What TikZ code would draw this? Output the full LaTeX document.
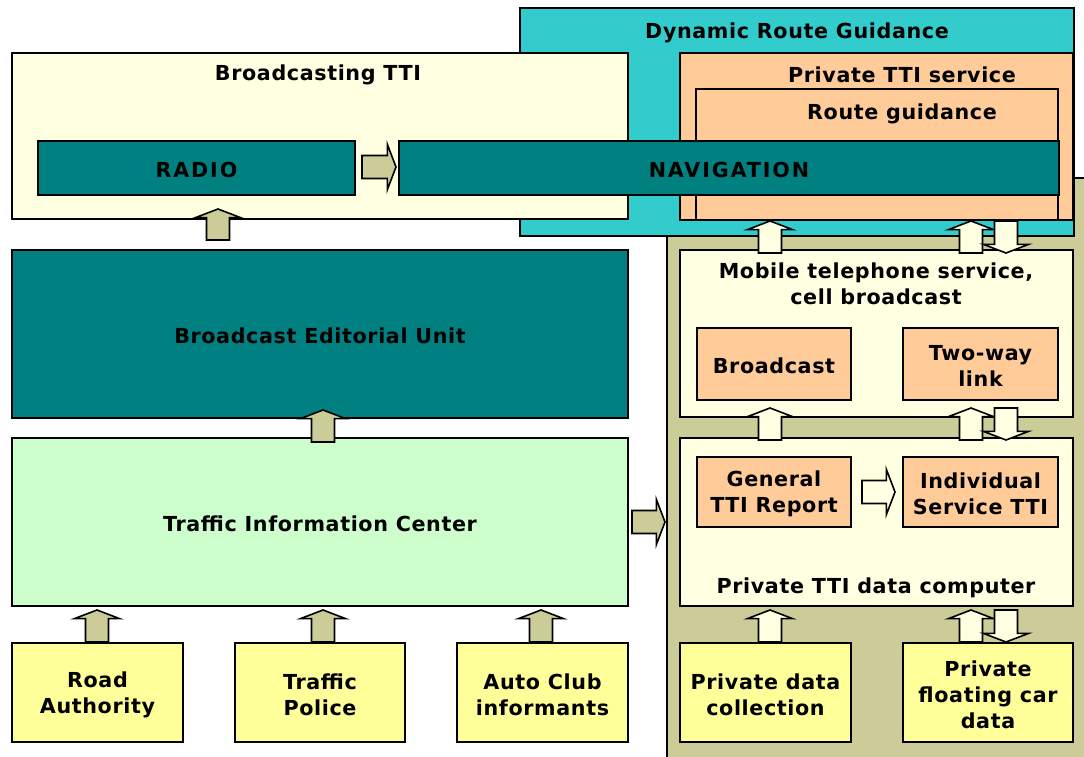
\documentclass[tikz,border=0pt]{standalone}
\usepackage{fontspec}
\setmainfont{DejaVu Sans}[LetterSpace=3]
\newfontfamily\capsp{DejaVu Sans}[LetterSpace=9]
\usetikzlibrary{calc}
\definecolor{khaki}{HTML}{CCCC99}
\definecolor{teal}{HTML}{008080}
\definecolor{cyanbox}{HTML}{33CCCC}
\definecolor{peach}{HTML}{FFCC99}
\definecolor{ltyellow}{HTML}{FFFFE1}
\definecolor{ltgreen}{HTML}{CCFFCC}
\definecolor{yellowbox}{HTML}{FFFF99}
\newcommand\fs{\fontsize{15.5}{19.5}\selectfont\bfseries}
\tikzset{
  box/.style={draw=black, line width=1.1pt, inner sep=0pt, outer sep=0pt},
  lbl/.style={inner sep=0pt, font=\fs, align=center, text=black, yshift=-1.5pt},
  barK/.style={fill=khaki, draw=black, line width=1.2pt, line join=miter},
  barW/.style={fill=ltyellow, draw=black, line width=1.2pt, line join=miter},
}
\newcommand\bx[7]{\node[box,#6,minimum width={(#4-#2)*0.75pt},minimum height={(#5-#3)*0.75pt}] (#1) at ({(#2+#4)/2},{(#3+#5)/2}) {};
  \node[lbl] (#1t) at (#1.center) {#7};}
\newcommand\barrow[3]{%
  \coordinate (hb) at ($(#3)!6.5pt!(#2)$);
  \draw[#1] ($(#2)!8.6pt!-90:(#3)$) -- ($(hb)!8.6pt!-90:(#3)$) -- ($(hb)!17pt!-90:(#3)$) -- (#3) -- ($(hb)!17pt!90:(#3)$) -- ($(hb)!8.6pt!90:(#3)$) -- ($(#2)!8.6pt!90:(#3)$) -- cycle;}
\begin{document}
\begin{tikzpicture}[x=0.75pt,y=-0.75pt]
\path[use as bounding box] (0,0) rectangle (1084,756);
\clip (0,0) rectangle (1084,756);
\fill[white] (0,0) rectangle (1084,756);
% right background panel
\bx{privbg}{667}{178}{1095}{770}{fill=khaki}{}
% dynamic route guidance
\bx{drg}{520}{8}{1074}{236}{fill=cyanbox}{}
\node[lbl] (drgt) at (797,31) {Dynamic Route Guidance};
% broadcasting TTI
\bx{btti}{12}{53}{628}{219}{fill=ltyellow}{}
\node[lbl] (bttit) at (318,73) {Broadcasting TTI};
% private TTI service
\bx{ptti}{680}{53}{1073}{220}{fill=peach}{}
\node[lbl] (pttit) at (902,73) {Private TTI service};
\bx{rg}{696}{89}{1058}{220}{fill=peach}{}
\node[lbl] (rgt) at (902,112) {Route guidance};
% radio / navigation
\bx{radio}{38}{141}{355}{195}{fill=teal}{\capsp RADIO}
\bx{nav}{399}{141}{1059}{195}{fill=teal}{\capsp NAVIGATION}
% left column
\bx{beu}{12}{250}{628}{418}{fill=teal}{Broadcast Editorial Unit}
\bx{tic}{12}{438}{628}{606}{fill=ltgreen}{Traffic Information Center}
\bx{road}{12}{643}{183}{742}{fill=yellowbox}{Road\\Authority}
\bx{police}{235}{643}{405}{742}{fill=yellowbox}{Traffic\\Police}
\bx{auto}{457}{643}{628}{742}{fill=yellowbox}{Auto Club\\informants}
% right column
\bx{mob}{680}{250}{1073}{417}{fill=ltyellow}{}
\node[lbl] (mobt) at (876,282) {Mobile telephone service,\\cell broadcast};
\bx{bcast}{697}{328}{851}{400}{fill=peach}{Broadcast}
\bx{twoway}{903}{328}{1058}{400}{fill=peach}{Two-way\\link}
\bx{comp}{680}{438}{1073}{606}{fill=ltyellow}{}
\node[lbl] (compt) at (876,586) {Private TTI data computer};
\bx{gen}{697}{457}{851}{527}{fill=peach}{General\\TTI Report}
\bx{indiv}{903}{457}{1058}{527}{fill=peach}{Individual\\Service TTI}
\bx{pdc}{680}{643}{851}{742}{fill=yellowbox}{Private data\\collection}
\bx{pfcd}{903}{643}{1073}{742}{fill=yellowbox}{Private\\floating car\\data}
% arrow end points
\coordinate (r1s) at (362,167); \coordinate (r1e) at (396,167);
\coordinate (u1s) at (218,240); \coordinate (u1e) at (218,209);
\coordinate (u2s) at (323,442); \coordinate (u2e) at (323,410);
\coordinate (r2s) at (632,522); \coordinate (r2e) at (665,522);
\coordinate (u3s) at (97,642);  \coordinate (u3e) at (97,610);
\coordinate (u4s) at (323,642); \coordinate (u4e) at (323,610);
\coordinate (u5s) at (541,642); \coordinate (u5e) at (541,610);
\coordinate (w1s) at (770,253); \coordinate (w1e) at (770,221);
\coordinate (w2s) at (971,253); \coordinate (w2e) at (971,221);
\coordinate (d1s) at (1006,221); \coordinate (d1e) at (1006,253);
\coordinate (w3s) at (770,440); \coordinate (w3e) at (770,408);
\coordinate (w4s) at (971,440); \coordinate (w4e) at (971,408);
\coordinate (d2s) at (1006,408); \coordinate (d2e) at (1006,440);
\coordinate (w5s) at (770,642); \coordinate (w5e) at (770,610);
\coordinate (w6s) at (971,642); \coordinate (w6e) at (971,610);
\coordinate (d3s) at (1006,610); \coordinate (d3e) at (1006,642);
\coordinate (r3s) at (862,492); \coordinate (r3e) at (895,492);
% arrows
\barrow{barK}{r1s}{r1e}
\barrow{barK}{u1s}{u1e}
\barrow{barK}{u2s}{u2e}
\barrow{barK}{r2s}{r2e}
\barrow{barK}{u3s}{u3e}
\barrow{barK}{u4s}{u4e}
\barrow{barK}{u5s}{u5e}
\barrow{barW}{w1s}{w1e}
\barrow{barW}{w2s}{w2e}
\barrow{barW}{d1s}{d1e}
\barrow{barW}{w3s}{w3e}
\barrow{barW}{w4s}{w4e}
\barrow{barW}{d2s}{d2e}
\barrow{barW}{w5s}{w5e}
\barrow{barW}{w6s}{w6e}
\barrow{barW}{d3s}{d3e}
\barrow{barW}{r3s}{r3e}
\end{tikzpicture}
\end{document}
